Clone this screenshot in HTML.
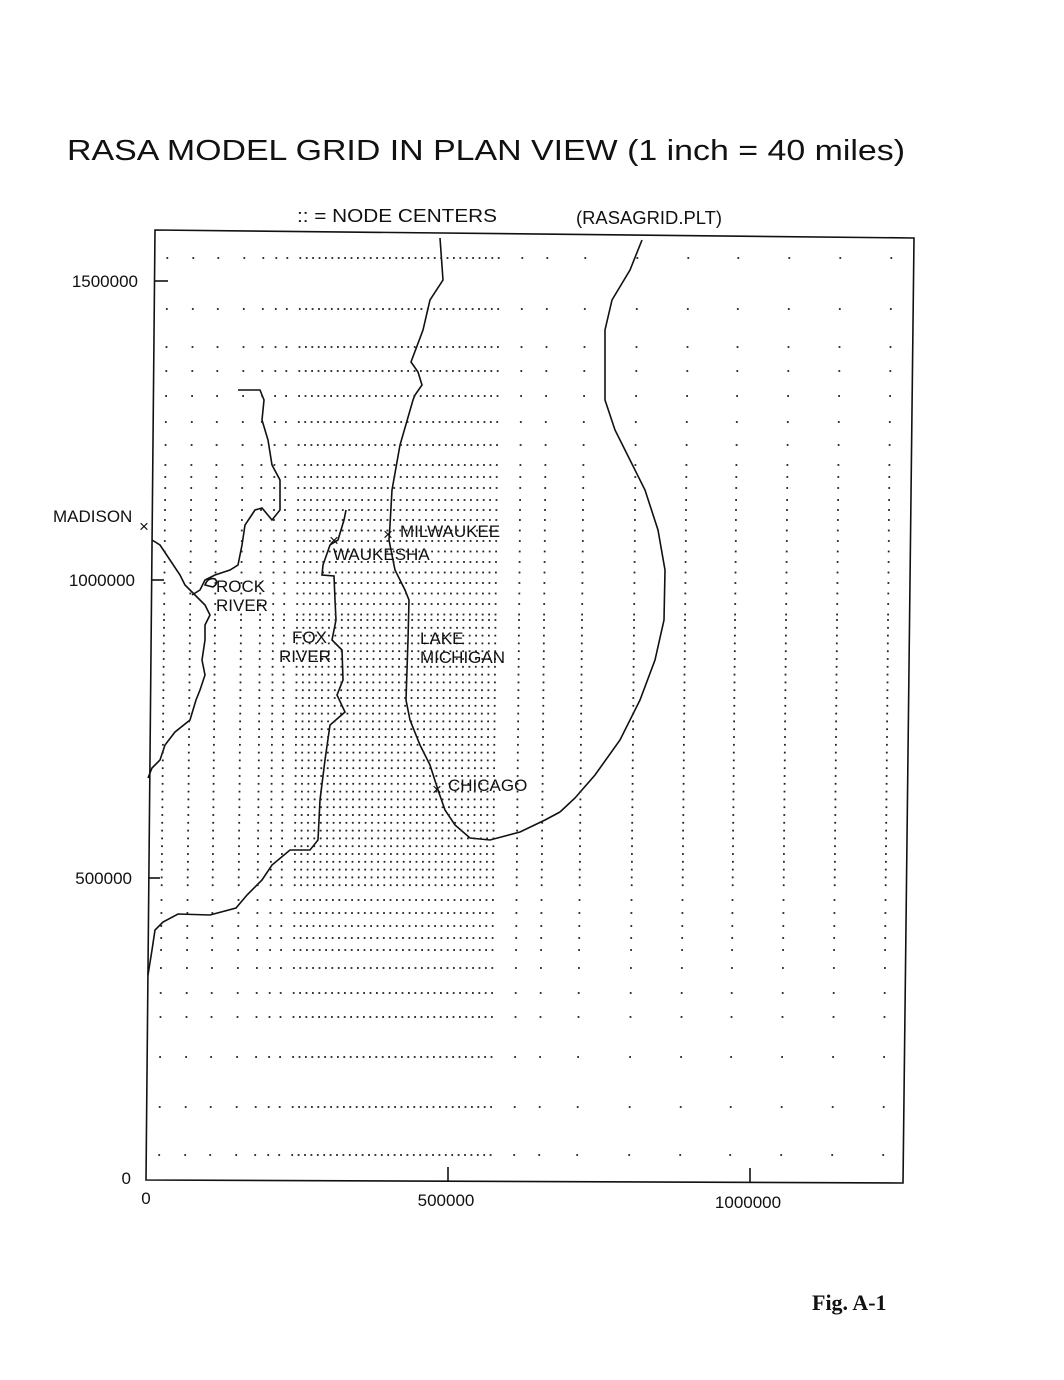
<!DOCTYPE html>
<html><head><meta charset="utf-8"><style>
body{margin:0;background:#fff;}
svg{display:block}
text{font-family:"Liberation Sans",sans-serif;fill:#111}
</style></head><body>
<svg id="s" width="1064" height="1380" viewBox="0 0 1064 1380" xmlns="http://www.w3.org/2000/svg">
<rect width="1064" height="1380" fill="#fff"/>
<text x="67" y="160" font-size="29" textLength="838" lengthAdjust="spacingAndGlyphs">RASA MODEL GRID IN PLAN VIEW   (1 inch = 40 miles)</text>
<text x="297" y="222" font-size="18" textLength="200" lengthAdjust="spacingAndGlyphs">:: = NODE CENTERS</text>
<text x="576" y="224" font-size="18" textLength="146" lengthAdjust="spacingAndGlyphs">(RASAGRID.PLT)</text>
<g fill="none" stroke="#111" stroke-width="1.6">
<polygon points="155,230 914,238 903,1183 146,1180"/>
<line x1="155" y1="281" x2="168" y2="281"/>
<line x1="151" y1="580" x2="164" y2="580"/>
<line x1="148" y1="878" x2="160" y2="878"/>
<line x1="448" y1="1181" x2="448" y2="1167"/>
<line x1="750" y1="1182" x2="750" y2="1168"/>
<polyline points="440,238 443,280 430,300 423,330 411,362 418,372 422,385 415,395 413,400 400,445 392,490 390,525 389,540 395,570 405,590 409,600 408,640 406,700 410,720 420,745 430,765 438,790 445,810 455,825 470,838 490,840 520,832 545,820 560,812"/>
<polyline points="642,240 630,270 612,300 605,330 605,400 615,430 630,460 645,490 658,530 665,570 664,620 655,660 640,700 620,740 595,775 575,798 560,812"/>
<polyline points="346,510 344,520 338,540 330,545 323,565 322,575 334,576 335,600 336,620 332,640 342,650 343,680 337,695 345,712 330,725 325,760 320,800 318,840 310,850 290,850 272,865 262,880 247,895 236,908 210,915 178,914 163,922 155,930 152,950 148,975"/>
<polyline points="238,390 260,390 264,400 262,420 268,440 272,465 280,480 280,510 272,520 262,508 255,510 245,525 242,545 238,565 230,570 215,575 205,580 200,590 192,595"/>
<polyline points="152,540 160,545 170,560 180,575 185,585 195,595 205,605 210,615 205,625 205,640 202,660 205,675 200,690 196,700 190,720 175,732 165,745 160,760 152,768 148,778"/>
<path d="M205,585 q3,-8 10,-6 q4,4 -2,8 z"/>
</g>
<g id="d" fill="#222"></g>
<g font-size="17">
<text x="138" y="287" text-anchor="end">1500000</text>
<text x="135" y="586" text-anchor="end">1000000</text>
<text x="132" y="884" text-anchor="end">500000</text>
<text x="131" y="1184" text-anchor="end">0</text>
<text x="146" y="1204" text-anchor="middle">0</text>
<text x="446" y="1206" text-anchor="middle">500000</text>
<text x="748" y="1208" text-anchor="middle">1000000</text>
<text x="53" y="522">MADISON</text><text x="139" y="532">×</text>
<text x="400" y="537">MILWAUKEE</text><text x="383" y="540">×</text>
<text x="333" y="560">WAUKESHA</text><text x="329" y="546">×</text>
<text x="216" y="592">ROCK</text><text x="216" y="611">RIVER</text>
<text x="292" y="643">FOX</text><text x="279" y="662">RIVER</text>
<text x="420" y="644">LAKE</text><text x="420" y="663">MICHIGAN</text>
<text x="448" y="791">CHICAGO</text><text x="432" y="795">×</text>
</g>
<text x="812" y="1310" font-size="22" font-weight="bold" style="font-family:'Liberation Serif',serif">Fig. A-1</text>
</svg>
<script>
var cols=[159,185,210,236,255,268,279];
for(var x=292;x<=496;x+=6.4)cols.push(x);
cols=cols.concat([514,539,577,629,680,730,781,832,883]);
var rows=[258,309,347,371,396,422,445,465,477,488,500,510];
for(var y=520;y<620;y+=10.5)rows.push(y);
for(var y=620;y<890;y+=7.8)rows.push(y);
rows=rows.concat([900,913,926,938,950,968,993,1017,1057,1107,1155]);
var h='';
rows.forEach(function(y){cols.forEach(function(x){var xx=x+(1180-y)*0.009;h+='<rect x="'+(xx-0.9).toFixed(1)+'" y="'+(y-0.9).toFixed(1)+'" width="1.8" height="1.8"/>';});});
document.getElementById('d').innerHTML=h;
</script>
</body></html>
